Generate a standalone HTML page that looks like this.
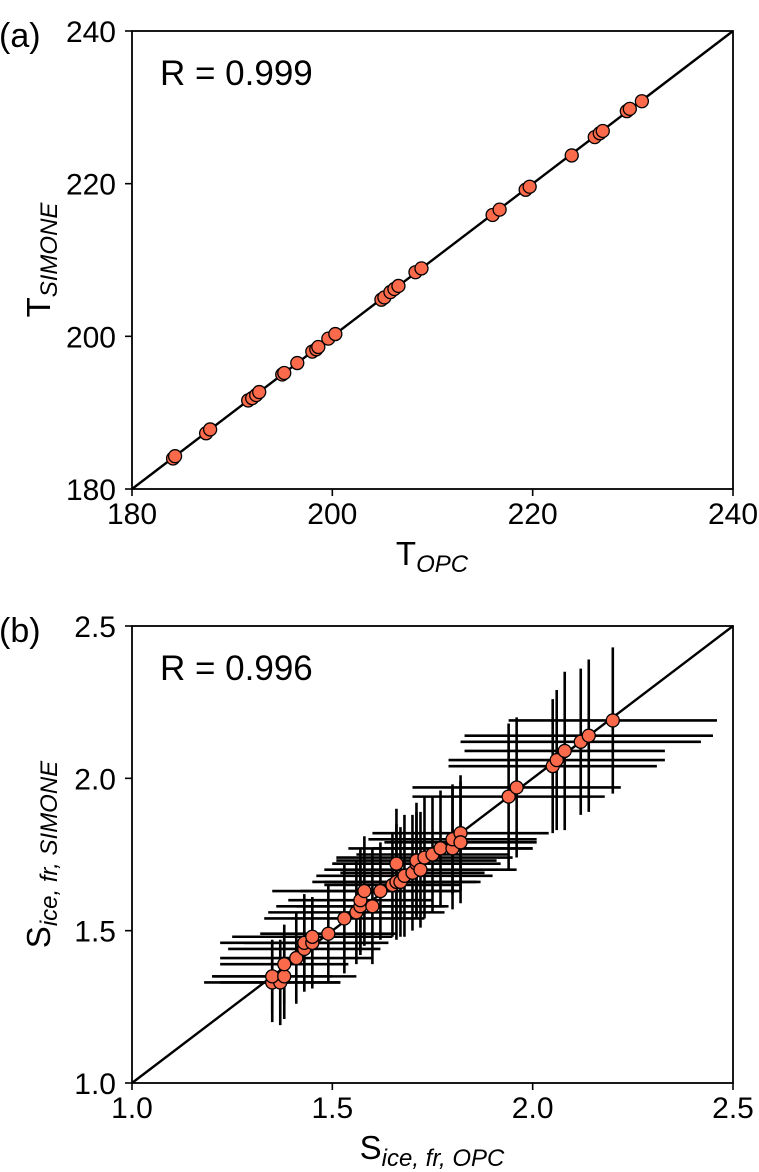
<!DOCTYPE html>
<html><head><meta charset="utf-8">
<style>
html,body{margin:0;padding:0;background:#fff;}
svg{display:block;font-family:"Liberation Sans","DejaVu Sans",sans-serif;}
</style></head>
<body>
<svg id="fig" width="759" height="1172" viewBox="0 0 759 1172" xmlns="http://www.w3.org/2000/svg">
<g id="pa"></g>
<g id="pb"></g>
</svg>
<script>
// Panel (a) data
const aTicks = [180, 200, 220, 240];
const aTickLabels = ["180", "200", "220", "240"];
const aX = [184.1,184.3,187.4,187.8,191.6,192.0,192.4,192.7,195.0,195.2,196.5,198.0,198.4,198.6,199.6,200.3,204.9,205.2,205.8,206.2,206.6,208.3,208.9,216.0,216.7,219.3,219.7,223.9,226.2,226.7,227.0,229.4,229.7,230.9];
const aY = [184.0,184.3,187.3,187.8,191.6,191.9,192.3,192.7,195.0,195.2,196.5,198.0,198.3,198.6,199.7,200.3,204.8,205.1,205.8,206.2,206.6,208.4,208.9,215.9,216.6,219.2,219.6,223.7,226.1,226.6,226.9,229.5,229.8,230.8];
// Panel (b) data
const bTicks = [1.0, 1.5, 2.0, 2.5];
const bTickLabels = ["1.0", "1.5", "2.0", "2.5"];
const bX = [1.35,1.37,1.35,1.38,1.38,1.41,1.43,1.43,1.45,1.45,1.49,1.53,1.56,1.57,1.57,1.60,1.58,1.62,1.65,1.66,1.67,1.68,1.70,1.71,1.66,1.71,1.72,1.73,1.75,1.77,1.80,1.80,1.82,1.82,1.94,1.96,2.05,2.06,2.08,2.12,2.14,2.20];
const bY = [1.33,1.33,1.35,1.35,1.39,1.41,1.44,1.46,1.46,1.48,1.49,1.54,1.56,1.58,1.60,1.58,1.63,1.63,1.65,1.66,1.66,1.68,1.69,1.72,1.72,1.73,1.70,1.74,1.75,1.77,1.77,1.80,1.82,1.79,1.94,1.97,2.04,2.06,2.09,2.12,2.14,2.19];
const bXErr = [0.17,0.15,0.15,0.18,0.16,0.19,0.19,0.21,0.17,0.20,0.17,0.20,0.22,0.21,0.18,0.19,0.23,0.20,0.17,0.21,0.19,0.22,0.18,0.21,0.16,0.20,0.24,0.22,0.19,0.23,0.20,0.21,0.22,0.19,0.24,0.26,0.26,0.27,0.25,0.30,0.31,0.26];
const bYErr = [0.13,0.14,0.12,0.14,0.13,0.15,0.14,0.16,0.15,0.13,0.16,0.18,0.17,0.16,0.17,0.19,0.18,0.16,0.17,0.19,0.18,0.20,0.19,0.17,0.18,0.19,0.19,0.20,0.19,0.19,0.20,0.18,0.19,0.20,0.24,0.23,0.22,0.23,0.26,0.24,0.25,0.24];

const NS = "http://www.w3.org/2000/svg";
function mk(parent, tag, attrs, text) {
  const e = document.createElementNS(NS, tag);
  for (const k in attrs) e.setAttribute(k, attrs[k]);
  if (text !== undefined) e.textContent = text;
  parent.appendChild(e);
  return e;
}
const L = 132, R = 733;

function panel(g, top, bot, ticks, labels, xs, ys, xe, ye, tag, rText, yMain, ySub, xSub, labelY) {
  const lo = ticks[0], hi = ticks[ticks.length - 1];
  const sx = v => L + (v - lo) / (hi - lo) * (R - L);
  const sy = v => bot - (v - lo) / (hi - lo) * (bot - top);
  const fr = mk(g, "rect", {x: L, y: top, width: R - L, height: bot - top, fill: "none", stroke: "#000", "stroke-width": 1.8});
  
  
  ticks.forEach((t, i) => {
    const tx = mk(g, "line", {x1: sx(t), x2: sx(t), y1: bot, y2: bot + 7, stroke: "#000", "stroke-width": 1.6});
    
    
    const lx = mk(g, "text", {x: sx(t), y: bot + 35, "text-anchor": "middle", "font-size": 30}, labels[i]);
    
    
    const ty = mk(g, "line", {x1: L - 7, x2: L, y1: sy(t), y2: sy(t), stroke: "#000", "stroke-width": 1.6});
    
    
    const ly = mk(g, "text", {x: L - 16, y: sy(t) + 11, "text-anchor": "end", "font-size": 30}, labels[i]);
    
    
  });
  const one = mk(g, "line", {x1: sx(lo), y1: sy(lo), x2: sx(hi), y2: sy(hi), stroke: "#000", "stroke-width": 2.4});
  
  
  if (xe) {
    xs.forEach((v, i) => {
      const h = mk(g, "line", {x1: sx(v - xe[i]), x2: sx(v + xe[i]), y1: sy(ys[i]), y2: sy(ys[i]), stroke: "#000", "stroke-width": 2.6});
      
      
      const vv = mk(g, "line", {x1: sx(v), x2: sx(v), y1: sy(ys[i] - ye[i]), y2: sy(ys[i] + ye[i]), stroke: "#000", "stroke-width": 2.6});
      
      
    });
  }
  xs.forEach((v, i) => {
    const c = mk(g, "circle", {cx: sx(v), cy: sy(ys[i]), r: 6.5, fill: "#fb6a4a", stroke: "#000", "stroke-width": 1.3});
    
    
  });
  const rt = mk(g, "text", {x: 160, y: top + 54, "font-size": 35}, rText);
  
  
  const pt = mk(g, "text", {x: -1, y: top + 16, "font-size": 34}, tag);
  
  
  const xt = mk(g, "text", {x: 432, y: bot + 76, "text-anchor": "middle", "font-size": 33});
  
  
  mk(xt, "tspan", {}, yMain);
  mk(xt, "tspan", {"font-style": "italic", "font-size": 24, dy: 7}, xSub);
  const yt = mk(g, "text", {x: 0, y: 0, "text-anchor": "middle", "font-size": 33, transform: `translate(${labelY},${(top + bot) / 2}) rotate(-90)`});
  
  
  mk(yt, "tspan", {}, yMain);
  mk(yt, "tspan", {"font-style": "italic", "font-size": 24, dy: 7}, ySub);
}

panel(document.getElementById("pa"), 31, 489, aTicks, aTickLabels, aX, aY, null, null, "(a)", "R = 0.999", "T", "SIMONE", "OPC", 50);
panel(document.getElementById("pb"), 626, 1083, bTicks, bTickLabels, bX, bY, bXErr, bYErr, "(b)", "R = 0.996", "S", "ice, fr, SIMONE", "ice, fr, OPC", 50);
</script>
</body></html>
